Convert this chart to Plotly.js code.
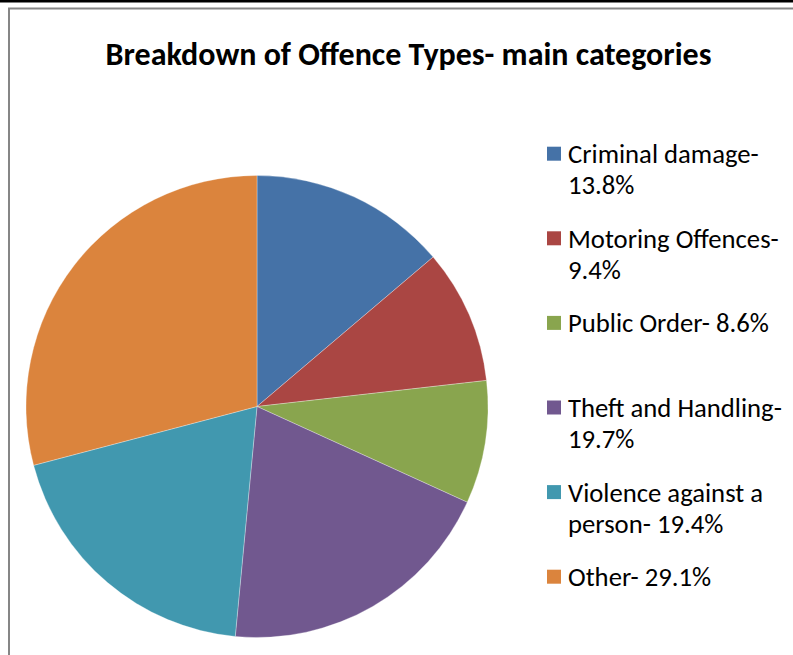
<!DOCTYPE html>
<html>
<head>
<meta charset="utf-8">
<script src="https://cdn.plot.ly/plotly-3.0.1.min.js"></script>
<style>html,body{margin:0;padding:0;background:#fff;overflow:hidden;}#chart{width:793px;height:655px;}</style>
</head>
<body>
<div id="chart"></div>
<script>
const categories = ["Criminal damage", "Motoring Offences", "Public Order", "Theft and Handling", "Violence against a person", "Other"];
const percentages = [13.8, 9.4, 8.6, 19.7, 19.4, 29.1];
// legend text as wrapped in the original
const legendLines = [
  ["Criminal damage-", "13.8%"],
  ["Motoring Offences-", "9.4%"],
  ["Public Order- 8.6%"],
  ["Theft and Handling-", "19.7%"],
  ["Violence against a", "person- 19.4%"],
  ["Other- 29.1%"]
];
const colors = ["#4572A7", "#AA4643", "#89A54E", "#71588F", "#4198AF", "#DB843D"];
const titleText = "<b>Breakdown of Offence Types- main categories</b>";

const fontFam = "Carlito, Calibri, Lato, sans-serif";
const W = 793, H = 655;
const px = x => x / W;
const py = y => 1 - y / H;

const trace = {
  type: "pie",
  values: percentages,
  labels: categories,
  sort: false,
  direction: "clockwise",
  rotation: 0,
  textinfo: "none",
  hoverinfo: "label+percent",
  showlegend: false,
  marker: {colors: colors, line: {color: "rgba(255,255,255,0.6)", width: 0.5}},
  domain: {x: [px(26), px(488)], y: [py(637.5), py(175.5)]}
};

// legend built from the data arrays
const legTop = 153.7, legStep = 84.6, lineStep = 31, sw = 14;
const annotations = [];
const shapes = [
  {type: "line", xref: "paper", yref: "paper", x0: 0, x1: 1, y0: py(1), y1: py(1), line: {color: "#000", width: 3}},
  {type: "line", xref: "paper", yref: "paper", x0: px(8), x1: 1, y0: py(8.5), y1: py(8.5), line: {color: "#868686", width: 2}},
  {type: "line", xref: "paper", yref: "paper", x0: px(9), x1: px(9), y0: py(8), y1: 0, line: {color: "#868686", width: 2}}
];
legendLines.forEach((lines, i) => {
  const yc = legTop + i * legStep;
  shapes.push({type: "rect", xref: "paper", yref: "paper", x0: px(547), x1: px(547 + sw), y0: py(yc + sw/2), y1: py(yc - sw/2), fillcolor: colors[i], line: {width: 0}});
  lines.forEach((t, k) => {
    annotations.push({xref: "paper", yref: "paper", x: px(566), y: py(yc + 0.5 + k * lineStep), xanchor: "left", yanchor: "middle", text: t, showarrow: false, font: {family: fontFam, size: 26.7, color: "#000"}});
  });
});

const layout = {
  width: W, height: H, autosize: false,
  margin: {l: 0, r: 0, t: 0, b: 0},
  paper_bgcolor: "#fff",
  title: {text: titleText, font: {family: fontFam, size: 32, color: "#000"}, x: px(408.5), xanchor: "center", y: py(53.5), yanchor: "middle"},
  showlegend: false,
  annotations: annotations,
  shapes: shapes
};

Plotly.newPlot("chart", [trace], layout, {displayModeBar: false, staticPlot: true});
</script>
</body>
</html>
